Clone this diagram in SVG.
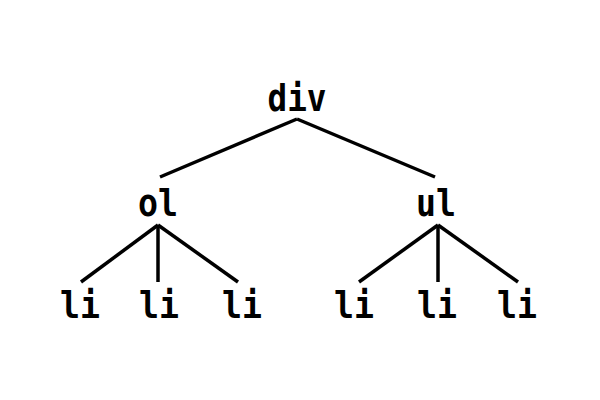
<svg xmlns="http://www.w3.org/2000/svg" width="600" height="400" viewBox="0 0 600 400">
<style>
text{font-family:"DejaVu Sans Mono","Liberation Mono",monospace;font-weight:bold;font-size:38px;fill:#000;text-anchor:middle}
#edges line{stroke:#000;stroke-width:3.5;stroke-linecap:butt}
</style>
<rect width="600" height="400" fill="#fff"/>
<g id="edges">
<line x1="297" y1="119" x2="160" y2="177"/>
<line x1="297" y1="119" x2="435" y2="177"/>
<line x1="158" y1="225" x2="81" y2="282"/>
<line x1="158" y1="225" x2="158" y2="282"/>
<line x1="158" y1="225" x2="238" y2="282"/>
<line x1="438" y1="225" x2="359" y2="282"/>
<line x1="438" y1="225" x2="438" y2="282"/>
<line x1="438" y1="225" x2="518" y2="282"/>
</g>
<g id="div"><text x="297" y="111" textLength="59" lengthAdjust="spacingAndGlyphs">div</text></g>
<g id="ol"><text x="158" y="216" textLength="40" lengthAdjust="spacingAndGlyphs">ol</text></g>
<g id="ul"><text x="436" y="216" textLength="40" lengthAdjust="spacingAndGlyphs">ul</text></g>
<g id="li1"><text x="80" y="318" textLength="40" lengthAdjust="spacingAndGlyphs">li</text></g>
<g id="li2"><text x="159" y="318" textLength="40" lengthAdjust="spacingAndGlyphs">li</text></g>
<g id="li3"><text x="242" y="318" textLength="40" lengthAdjust="spacingAndGlyphs">li</text></g>
<g id="li4"><text x="354" y="318" textLength="40" lengthAdjust="spacingAndGlyphs">li</text></g>
<g id="li5"><text x="437" y="318" textLength="40" lengthAdjust="spacingAndGlyphs">li</text></g>
<g id="li6"><text x="517" y="318" textLength="40" lengthAdjust="spacingAndGlyphs">li</text></g>
</svg>
